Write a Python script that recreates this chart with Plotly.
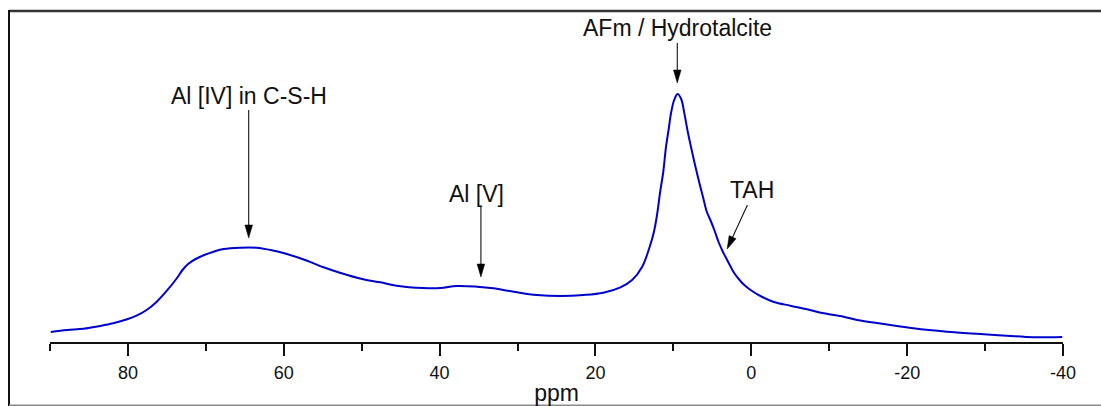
import plotly.graph_objects as go

# 27Al MAS NMR spectrum (chemical shift in ppm, intensity in arbitrary units)
ppm = [89.9, 87.8, 85.7, 83.6, 81.9, 80.1, 78.9, 77.6, 76.3, 75.0, 73.7, 73.0,
       72.2, 71.3, 70.2, 69.0, 67.7, 65.6, 63.5, 61.7, 59.6, 57.0, 54.9, 52.8,
       49.8, 47.6, 45.5, 42.1, 39.9, 37.8, 35.2, 33.1, 30.5, 27.5, 24.5, 21.5,
       19.0, 16.8, 15.3, 14.0, 13.05, 12.5, 12.1, 11.7, 11.3, 10.95, 10.6, 10.3,
       9.9, 9.46, 9.0, 8.6, 8.2, 7.74, 7.25, 6.76, 6.2, 5.7, 5.2, 4.7, 4.2,
       3.7, 3.3, 2.7, 2.2, 1.4, 0.9, 0.1, -1.4, -2.9, -5.0, -7.15, -9.3,
       -11.85, -13.6, -17.0, -20.8, -25.1, -29.4, -32.8, -36.2, -39.9]
intensity = [10, 12, 13.3, 16, 18.7, 22.7, 26.3, 32, 40.3, 51.3, 64, 72,
             78.5, 83, 87, 90.3, 93, 94.3, 94.3, 92, 88, 81.3, 74.7, 69.3,
             62.7, 59.7, 56.3, 54, 54, 56, 55.3, 53.7, 50.3, 47, 46, 47,
             49.3, 54.7, 62, 75.3, 95, 110, 127, 150, 170, 195, 213, 229,
             242, 248, 243, 229, 212, 195, 178, 162, 145, 130, 121, 111, 100,
             91, 85, 76, 69, 61, 57, 52, 45, 40, 36.3, 32.7, 28.7,
             25.3, 22, 18, 13.7, 10.3, 8, 6.3, 4.7, 5]

# Axis tick labels
major_ticks = [80, 60, 40, 20, 0, -20, -40]
major_labels = ["80", "60", "40", "20", "0", "-20", "-40"]
minor_ticks = [90, 70, 50, 30, 10, -10, -30]

# Peak assignments: label, label centre (ppm, intensity), arrow tail, arrow tip
labels = ["Al [IV] in C-S-H", "Al [V]", "AFm / Hydrotalcite", "TAH"]
label_pos = [(64.5, 246), (35.3, 148), (9.5, 314), (-0.1, 152)]
arrow_tail = [(64.5, 232), (34.7, 135), (9.5, 299), (0.5, 137)]
arrow_tip = [(64.5, 104), (34.7, 65), (9.5, 259), (3.1, 93)]

W, H = 1101, 406
ML, MR, MT, MB = 50, 38, 20, 64
X_RANGE = [90, -40]
Y_RANGE = [0, 322]
plot_w = W - ML - MR
plot_h = H - MT - MB
px_per_ppm = plot_w / abs(X_RANGE[1] - X_RANGE[0])
px_per_unit = plot_h / (Y_RANGE[1] - Y_RANGE[0])

FONT = "Arial, 'Liberation Sans', sans-serif"

fig = go.Figure()
fig.add_trace(go.Scatter(
    x=ppm, y=intensity, mode="lines",
    line=dict(color="#0000cd", width=2, shape="spline", smoothing=1.0),
    hoverinfo="skip", showlegend=False,
))

shapes = []
annotations = []

# arrows: thin shaft plus a narrow filled head
HEAD_LEN, HEAD_HALF = 13, 3.8
for (tx, ty), (hx, hy) in zip(arrow_tail, arrow_tip):
    # work in pixel space (x grows to the left with ppm, y grows up)
    dx = (tx - hx) * px_per_ppm * -1
    dy = (ty - hy) * px_per_unit
    length = (dx ** 2 + dy ** 2) ** 0.5
    ux, uy = dx / length, dy / length  # unit vector tip -> tail
    bx, by = ux * HEAD_LEN, uy * HEAD_LEN
    px_, py_ = -uy * HEAD_HALF, ux * HEAD_HALF

    def to_data(ox, oy):
        return hx - ox / px_per_ppm, hy + oy / px_per_unit

    base = to_data(bx, by)
    left = to_data(bx + px_, by + py_)
    right = to_data(bx - px_, by - py_)
    shapes.append(dict(type="line", xref="x", yref="y", x0=tx, y0=ty,
                       x1=base[0], y1=base[1],
                       line=dict(color="#111111", width=1.1)))
    shapes.append(dict(type="path", xref="x", yref="y",
                       path=f"M {hx},{hy} L {left[0]},{left[1]} L {right[0]},{right[1]} Z",
                       fillcolor="#000000", line=dict(color="#000000", width=0.5)))

for text, (lx, ly) in zip(labels, label_pos):
    annotations.append(dict(x=lx, y=ly, xref="x", yref="y", text=text,
                            showarrow=False, xanchor="center", yanchor="middle",
                            font=dict(family=FONT, size=23, color="#111111")))


# outer frame lines (paper coordinates extend past the plotting area)
def px_to_paper_x(px):
    return (px - ML) / plot_w


def px_to_paper_y(py):
    return (H - MB - py) / plot_h


shapes += [
    dict(type="line", xref="paper", yref="paper",
         x0=px_to_paper_x(9), x1=px_to_paper_x(W + 2),
         y0=px_to_paper_y(11), y1=px_to_paper_y(11),
         line=dict(color="#333333", width=2.5)),
    dict(type="line", xref="paper", yref="paper",
         x0=px_to_paper_x(9), x1=px_to_paper_x(9),
         y0=px_to_paper_y(10), y1=px_to_paper_y(406),
         line=dict(color="#111111", width=2)),
    dict(type="line", xref="paper", yref="paper",
         x0=px_to_paper_x(9), x1=px_to_paper_x(W + 2),
         y0=px_to_paper_y(405.2), y1=px_to_paper_y(405.2),
         line=dict(color="#8a8a8a", width=1.5)),
]

fig.update_layout(
    width=W, height=H,
    margin=dict(l=ML, r=MR, t=MT, b=MB, pad=0),
    paper_bgcolor="white", plot_bgcolor="white",
    shapes=shapes, annotations=annotations,
    font=dict(family=FONT, color="#111111"),
    xaxis=dict(
        range=X_RANGE, autorange=False, automargin=False,
        showgrid=False, zeroline=False,
        showline=True, linecolor="#111111", linewidth=2,
        ticks="outside", ticklen=12, tickwidth=2, tickcolor="#111111",
        tickmode="array", tickvals=major_ticks, ticktext=major_labels,
        ticklabelstandoff=1,
        tickfont=dict(family=FONT, size=18, color="#111111"),
        minor=dict(ticks="outside", ticklen=7, tickwidth=2,
                   tickcolor="#111111", tickmode="array",
                   tickvals=minor_ticks, showgrid=False),
        title=dict(text="ppm", font=dict(family=FONT, size=23, color="#111111"),
                   standoff=5),
    ),
    yaxis=dict(range=Y_RANGE, autorange=False, visible=False),
)

fig.write_html("out.html")
